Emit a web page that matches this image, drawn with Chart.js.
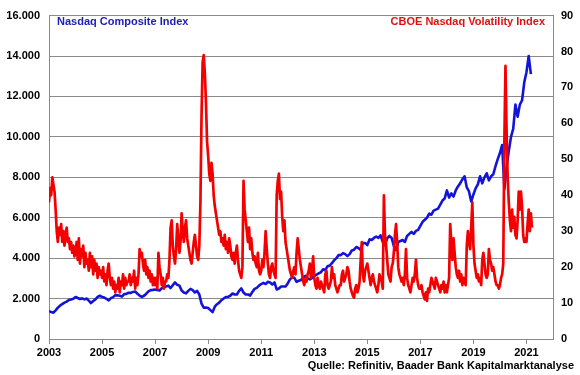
<!DOCTYPE html>
<html>
<head>
<meta charset="utf-8">
<script src="https://cdn.jsdelivr.net/npm/chart.js@4/dist/chart.umd.min.js"></script>
<style>
  html, body { margin: 0; padding: 0; background: #fff; }
  #wrap { width: 580px; height: 375px; }
</style>
</head>
<body>
<div id="wrap"><canvas id="nasdaqChart" width="580" height="375"></canvas></div>
<script>
// Jahre auf der x-Achse
const yearTicks = [2003, 2005, 2007, 2009, 2011, 2013, 2015, 2017, 2019, 2021];
const startYear = 2003;

// Nasdaq Composite, Monatswerte ab Jan 2003 (linke Achse)
const nasdaqValues = [
  1380, 1330, 1300, 1420, 1550, 1650, 1730, 1800, 1850, 1930, 1960, 1990, // 2003
  2080, 2030, 1980, 2010, 1960, 2000, 1900, 1780, 1880, 1960, 2080, 2140, // 2004
  2080, 2050, 1990, 1910, 2020, 2070, 2170, 2160, 2140, 2100, 2220, 2230, // 2005
  2290, 2280, 2330, 2350, 2240, 2150, 2080, 2140, 2240, 2360, 2420, 2430, // 2006
  2450, 2420, 2400, 2510, 2580, 2600, 2640, 2520, 2660, 2800, 2680, 2640, // 2007
  2400, 2300, 2260, 2380, 2480, 2420, 2300, 2380, 2200, 1750, 1550, 1560, // 2008
  1530, 1430, 1330, 1600, 1720, 1800, 1920, 2000, 2080, 2080, 2140, 2250, // 2009
  2200, 2200, 2380, 2500, 2300, 2200, 2200, 2150, 2330, 2480, 2530, 2640, // 2010
  2720, 2780, 2720, 2830, 2800, 2700, 2800, 2450, 2500, 2600, 2600, 2600, // 2011
  2750, 2950, 3050, 3030, 2830, 2880, 2920, 3050, 3120, 3000, 2950, 3010, // 2012
  3130, 3180, 3250, 3300, 3450, 3400, 3600, 3630, 3750, 3900, 4000, 4150, // 2013
  4150, 4250, 4200, 4100, 4200, 4380, 4420, 4550, 4500, 4400, 4750, 4750, // 2014
  4650, 4930, 4900, 5000, 5070, 5000, 5130, 4800, 4650, 4980, 5100, 5000, // 2015
  4600, 4400, 4800, 4850, 4900, 4800, 5100, 5200, 5300, 5200, 5350, 5400, // 2016
  5600, 5800, 5900, 6000, 6200, 6150, 6350, 6400, 6450, 6650, 6850, 6950, // 2017
  7350, 7000, 7200, 7050, 7350, 7550, 7700, 7900, 8050, 7500, 7300, 6800, // 2018
  7150, 7450, 7650, 8050, 7700, 8000, 8200, 7850, 8050, 8150, 8550, 8900, // 2019
  9200, 9600, 7400, 8500, 9300, 10000, 10400, 11600, 11000, 11600, 11800, 12700, // 2020
  13200, 14000, 13100 // 2021
];

// CBOE Nasdaq Volatility Index, Halbmonatswerte ab Jan 2003 (rechte Achse)
const vxnValues = [
  38, 42, 40, 45, 43, 41, 36, 30, 27, 31, 29, 32, 27, 30, 26, 29, 31, 27, 28, 25, 27, 24, 26, 23, // 2003
  24, 27, 22, 28, 21, 25, 23, 26, 20, 24, 21, 22, 19, 24, 20, 23, 18, 22, 19, 21, 17, 20, 18, 19, // 2004
  17, 20, 16, 18, 15, 19, 21, 17, 15, 17, 14, 16, 13, 15, 14, 17, 13, 16, 15, 18, 14, 17, 15, 16, // 2005
  16, 18, 15, 17, 16, 19, 14, 17, 15, 18, 25, 23, 24, 21, 19, 22, 18, 20, 17, 19, 16, 18, 15, 17, // 2006
  15, 17, 14, 24, 20, 18, 15, 17, 14, 16, 16, 18, 17, 22, 31, 33, 26, 23, 21, 25, 32, 28, 24, 27, // 2007
  35, 30, 27, 31, 33, 28, 26, 24, 22, 21, 24, 27, 29, 26, 23, 22, 26, 38, 62, 77, 79, 74, 66, 55, // 2008
  51, 46, 44, 49, 46, 40, 37, 35, 33, 31, 29, 30, 27, 28, 26, 29, 25, 27, 24, 28, 26, 23, 22, 24, // 2009
  21, 24, 26, 22, 19, 18, 17, 20, 44, 36, 33, 30, 27, 31, 25, 28, 24, 22, 23, 21, 20, 24, 19, 18, // 2010
  19, 22, 20, 24, 30, 25, 21, 18, 17, 20, 21, 19, 18, 17, 40, 44, 46, 39, 41, 34, 30, 33, 27, 25, // 2011
  23, 21, 19, 18, 17, 19, 20, 18, 24, 28, 25, 22, 20, 18, 16, 15, 17, 16, 18, 19, 21, 17, 19, 23, // 2012
  17, 15, 14, 17, 15, 14, 16, 15, 14, 13, 18, 19, 15, 14, 15, 16, 20, 17, 18, 15, 14, 13, 14, 15, // 2013
  15, 18, 19, 16, 17, 18, 20, 19, 16, 14, 13, 12, 11.5, 14, 15, 13, 14, 16, 22, 27, 18, 16, 19, 20, // 2014
  21, 19, 17, 15, 17, 18, 16, 15, 14, 13, 15, 18, 17, 16, 14, 40, 29, 26, 22, 18, 17, 16, 20, 21, // 2015
  24, 29, 32, 27, 20, 18, 17, 16, 17, 15, 18, 25, 17, 15, 14, 13, 15, 17, 16, 18, 22, 17, 15, 14, // 2016
  14, 15, 13, 12, 11, 13, 10.6, 14, 13, 15, 17, 16, 15, 14, 17, 16, 15, 14, 13, 15, 14, 16, 13, 15, // 2017
  13, 15, 17, 32, 27, 22, 28, 24, 20, 18, 17, 19, 16, 18, 15, 17, 16, 15, 26, 30, 27, 25, 31, 38, // 2018
  26, 21, 19, 17, 18, 16, 17, 15, 22, 24, 21, 18, 17, 18, 25, 22, 21, 19, 20, 18, 16, 15, 15, 14, // 2019
  15, 17, 18, 21, 55, 76, 58, 45, 38, 33, 30, 36, 31, 34, 29, 28, 33, 41, 36, 41, 37, 29, 27, 28, // 2020
  27, 32, 36, 30, 35, 31 // 2021
];

const blueColor = "#1414d8";
const redColor = "#f50000";
const gridColor = "#8a8a8a";
const fontFamily = "'Liberation Sans', Arial, sans-serif";

// Punkte fuer die lineare Zeitachse bauen
const nasdaqPoints = nasdaqValues.map((v, i) => ({ x: startYear + i / 12, y: v }));
const vxnPoints = vxnValues.map((v, i) => ({ x: startYear + i / 24, y: v }));

function formatDe(value) {
    return String(value).replace(/\B(?=(\d{3})+(?!\d))/g, ".");
}

// Beschriftungen im Chart und Quelle
const labelPlugin = {
    id: "labelPlugin",
    afterDraw(chart) {
        const ctx = chart.ctx;
        ctx.save();
        ctx.font = "bold 11px " + fontFamily;
        ctx.textBaseline = "middle";
        ctx.fillStyle = "#2020b4";
        ctx.textAlign = "left";
        ctx.fillText("Nasdaq Composite Index", 57, 22);
        ctx.fillStyle = "#e01010";
        ctx.textAlign = "right";
        ctx.fillText("CBOE Nasdaq Volatility Index", 545, 22);
        ctx.fillStyle = "#000";
        ctx.fillText("Quelle: Refinitiv, Baader Bank Kapitalmarktanalyse", 574, 366);
        ctx.restore();
    },
};

const ctx = document.getElementById("nasdaqChart").getContext("2d");
new Chart(ctx, {
    type: "line",
    data: {
        datasets: [
            {
                label: "CBOE Nasdaq Volatility Index",
                data: vxnPoints,
                yAxisID: "yRight",
                borderColor: redColor,
                borderWidth: 2.7,
                borderJoinStyle: "round",
                pointRadius: 0,
                tension: 0,
            },
            {
                label: "Nasdaq Composite Index",
                data: nasdaqPoints,
                yAxisID: "yLeft",
                borderColor: blueColor,
                borderWidth: 2.6,
                borderJoinStyle: "round",
                pointRadius: 0,
                tension: 0,
            },
        ],
    },
    options: {
        responsive: false,
        animation: false,
        layout: { padding: { top: 10, left: 0, right: 0, bottom: 0 } },
        plugins: {
            legend: { display: false },
            tooltip: { enabled: false },
        },
        scales: {
            x: {
                type: "linear",
                min: 2003,
                max: 2022,
                afterBuildTicks: (scale) => {
                    scale.ticks = yearTicks.map((y) => ({ value: y }));
                },
                afterFit: (scale) => {
                    scale.height = 36;
                },
                grid: {
                    drawOnChartArea: false,
                    drawTicks: true,
                    tickLength: 5,
                    color: gridColor,
                },
                border: { display: true, color: gridColor },
                ticks: {
                    padding: 2,
                    maxRotation: 0,
                    autoSkip: false,
                    color: "#000",
                    font: { family: fontFamily, size: 11, weight: "bold" },
                    callback: (v) => String(v),
                },
            },
            yLeft: {
                position: "left",
                min: 0,
                max: 16000,
                afterFit: (scale) => {
                    scale.width = 49;
                },
                grid: { color: gridColor, drawTicks: false },
                border: { display: true, color: gridColor },
                ticks: {
                    stepSize: 2000,
                    padding: 9,
                    color: "#000",
                    font: { family: fontFamily, size: 11, weight: "bold" },
                    callback: (v) => formatDe(v),
                },
            },
            yRight: {
                position: "right",
                min: 0,
                max: 90,
                afterFit: (scale) => {
                    scale.width = 27;
                },
                grid: { drawOnChartArea: false, drawTicks: false },
                border: { display: true, color: gridColor },
                ticks: {
                    stepSize: 10,
                    padding: 8,
                    color: "#000",
                    font: { family: fontFamily, size: 11, weight: "bold" },
                },
            },
        },
    },
    plugins: [labelPlugin],
});
</script>
</body>
</html>
